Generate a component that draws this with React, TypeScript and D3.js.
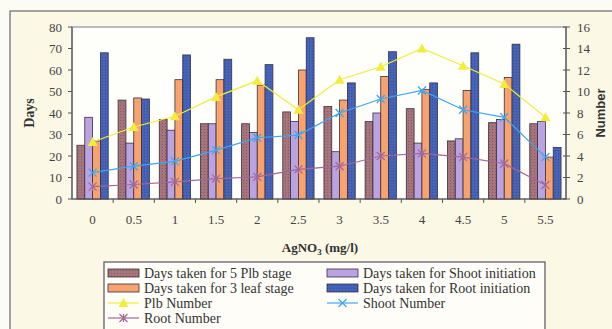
import * as d3 from "d3";

const CATEGORIES = ["0", "0.5", "1", "1.5", "2", "2.5", "3", "3.5", "4", "4.5", "5", "5.5"];

// days (left axis)
const PLB_STAGE = [25, 46, 37, 35, 35, 40.5, 43, 36, 42, 27, 35.5, 35];
const SHOOT_INIT = [38, 26, 32, 35, 31, 36, 22, 40, 26, 28, 37, 36];
const LEAF_STAGE = [27, 47, 55.5, 55.5, 53, 60, 46, 57, 51, 50.5, 56.5, 19.5];
const ROOT_INIT = [68, 46.5, 67, 65, 62.5, 75, 54, 68.5, 54, 68, 72, 24];

// numbers (right axis)
const PLB_NUMBER = [5.3, 6.7, 7.7, 9.5, 11, 8.3, 11.1, 12.3, 14, 12.4, 10.7, 7.6];
const SHOOT_NUMBER = [2.45, 3.05, 3.5, 4.55, 5.7, 5.95, 8, 9.3, 10.1, 8.3, 7.6, 3.9];
const ROOT_NUMBER = [1.15, 1.35, 1.6, 1.9, 2.05, 2.75, 3.05, 4, 4.25, 3.9, 3.3, 1.3];

const LEFT_TICKS = [0, 10, 20, 30, 40, 50, 60, 70, 80];
const RIGHT_TICKS = [0, 2, 4, 6, 8, 10, 12, 14, 16];

const W = 612;
const H = 329;
const PLOT = { left: 72, right: 566, top: 27, bottom: 199 };
const SERIF = "'Liberation Serif', 'DejaVu Serif', serif";

const barSeries = [
  { name: "Days taken for 5 Plb stage", values: PLB_STAGE, fill: "url(#dotBrown)" },
  { name: "Days taken for Shoot initiation", values: SHOOT_INIT, fill: "#b9a3e0" },
  { name: "Days taken for 3 leaf stage", values: LEAF_STAGE, fill: "#f8a36e" },
  { name: "Days taken for Root initiation", values: ROOT_INIT, fill: "url(#dotBlue)" },
];

const lineSeries = [
  { name: "Plb Number", values: PLB_NUMBER, color: "#f2ec3a", marker: "tri" },
  { name: "Shoot Number", values: SHOOT_NUMBER, color: "#3ea6ee", marker: "x" },
  { name: "Root Number", values: ROOT_NUMBER, color: "#a0679a", marker: "star" },
];

const Marker = ({ kind, x, y, color }: { kind: string; x: number; y: number; color: string }) => {
  if (kind === "tri") {
    return <path d={`M${x},${y - 5}L${x + 5},${y + 4}L${x - 5},${y + 4}Z`} fill={color} />;
  }
  if (kind === "x") {
    return (
      <path d={`M${x - 4},${y - 4}L${x + 4},${y + 4}M${x - 4},${y + 4}L${x + 4},${y - 4}`} stroke={color} strokeWidth={1.3} />
    );
  }
  return (
    <path
      d={`M${x - 4},${y - 4}L${x + 4},${y + 4}M${x - 4},${y + 4}L${x + 4},${y - 4}M${x},${y - 4}L${x},${y + 4}`}
      stroke={color}
      strokeWidth={1.2}
    />
  );
};

export default function App() {
  const x = d3
    .scaleBand<string>()
    .domain(CATEGORIES)
    .range([PLOT.left, PLOT.right])
    .paddingInner(0.24)
    .paddingOuter(0.12);
  const xInner = d3
    .scaleBand<number>()
    .domain(d3.range(barSeries.length))
    .range([0, x.bandwidth()]);
  const yL = d3.scaleLinear().domain([0, 80]).range([PLOT.bottom, PLOT.top]);
  const yR = d3.scaleLinear().domain([0, 16]).range([PLOT.bottom, PLOT.top]);
  const step = x.step();
  const cx = (c: string) => (x(c) ?? 0) + x.bandwidth() / 2;

  const line = d3
    .line<number>()
    .x((_, i) => cx(CATEGORIES[i]))
    .y((d) => yR(d));

  const legendRows = [
    { col: 0, row: 0, item: barSeries[0] },
    { col: 1, row: 0, item: barSeries[1] },
    { col: 0, row: 1, item: barSeries[2] },
    { col: 1, row: 1, item: barSeries[3] },
    { col: 0, row: 2, item: lineSeries[0] },
    { col: 1, row: 2, item: lineSeries[1] },
    { col: 0, row: 3, item: lineSeries[2] },
  ];

  return (
    <div style={{ position: "absolute", left: 0, top: 0 }}>
      <svg width={W} height={H} style={{ display: "block", background: "#fdfcf4" }}>
        <defs>
          <pattern id="dotBrown" width={3} height={3} patternUnits="userSpaceOnUse">
            <rect width={3} height={3} fill="#a6747a" />
            <rect width={1} height={1} fill="#8a5a60" />
          </pattern>
          <pattern id="dotBlue" width={3} height={3} patternUnits="userSpaceOnUse">
            <rect width={3} height={3} fill="#4563b8" />
            <rect width={1} height={1} fill="#3450a0" />
          </pattern>
        </defs>

        {/* outer chart frame */}
        <rect x={10} y={11} width={640} height={340} fill="#fbf8e6" stroke="#6a6470" strokeWidth={1.2} />

        {/* plot area */}
        <rect
          x={PLOT.left}
          y={PLOT.top}
          width={PLOT.right - PLOT.left}
          height={PLOT.bottom - PLOT.top}
          fill="#fefefb"
          stroke="#7d7894"
          strokeWidth={1}
        />

        {/* bars */}
        {barSeries.map((s, si) =>
          s.values.map((v, i) => {
            const c = CATEGORIES[i];
            return (
              <rect
                key={`${si}_${i}`}
                x={(x(c) ?? 0) + (xInner(si) ?? 0)}
                y={yL(v)}
                width={xInner.bandwidth()}
                height={PLOT.bottom - yL(v)}
                fill={s.fill}
                stroke="#3a3040"
                strokeWidth={0.8}
              />
            );
          })
        )}

        {/* lines */}
        {lineSeries.map((s) => (
          <g key={s.name}>
            <path d={line(s.values) ?? ""} fill="none" stroke={s.color} strokeWidth={1.2} />
            {s.values.map((v, i) => (
              <Marker key={i} kind={s.marker} x={cx(CATEGORIES[i])} y={yR(v)} color={s.color} />
            ))}
          </g>
        ))}

        {/* left axis */}
        <line x1={PLOT.left} x2={PLOT.left} y1={PLOT.top} y2={PLOT.bottom} stroke="#555" strokeWidth={1.2} />
        {LEFT_TICKS.map((t) => (
          <g key={t}>
            <line x1={PLOT.left - 4} x2={PLOT.left} y1={yL(t)} y2={yL(t)} stroke="#555" />
            <text x={62} y={yL(t)} dy="0.35em" textAnchor="end" fontFamily={SERIF} fontSize={13} fill="#444">
              {t}
            </text>
          </g>
        ))}

        {/* right axis */}
        <line x1={PLOT.right} x2={PLOT.right} y1={PLOT.top} y2={PLOT.bottom} stroke="#555" strokeWidth={1.2} />
        {RIGHT_TICKS.map((t) => (
          <g key={t}>
            <line x1={PLOT.right - 3} x2={PLOT.right + 4} y1={yR(t)} y2={yR(t)} stroke="#555" />
            <text x={577} y={yR(t)} dy="0.35em" textAnchor="start" fontFamily={SERIF} fontSize={13} fill="#444">
              {t}
            </text>
          </g>
        ))}

        {/* bottom axis */}
        <line x1={PLOT.left} x2={PLOT.right} y1={PLOT.bottom} y2={PLOT.bottom} stroke="#555" strokeWidth={1.2} />
        {CATEGORIES.map((c, i) => (
          <g key={c}>
            {i > 0 && (
              <line x1={(x(c) ?? 0) - (step - x.bandwidth()) / 2} x2={(x(c) ?? 0) - (step - x.bandwidth()) / 2} y1={PLOT.bottom} y2={PLOT.bottom + 4} stroke="#555" />
            )}
            <text x={cx(c)} y={219} dy="0.35em" textAnchor="middle" fontFamily={SERIF} fontSize={13} fill="#444">
              {c}
            </text>
          </g>
        ))}

        {/* axis titles */}
        <text
          transform={`translate(34,113) rotate(-90)`}
          textAnchor="middle"
          fontFamily={SERIF}
          fontWeight="bold"
          fontSize={14}
          fill="#333"
        >
          Days
        </text>
        <text
          transform={`translate(605,113) rotate(-90)`}
          textAnchor="middle"
          fontFamily="'Liberation Sans', Arial, sans-serif"
          fontWeight="bold"
          fontSize={13}
          fill="#333"
        >
          Number
        </text>
        <text x={320} y={252} textAnchor="middle" fontFamily={SERIF} fontWeight="bold" fontSize={13} fill="#333">
          AgNO<tspan fontSize={9} dy={3}>3</tspan>
          <tspan dy={-3}> (mg/l)</tspan>
        </text>

        {/* legend */}
        <rect x={104} y={262} width={441} height={80} fill="#fefdf8" stroke="#5a5060" strokeWidth={1.2} />
        {legendRows.map(({ col, row, item }) => {
          const lx = col === 0 ? 108 : 327;
          const ly = 273 + row * 15;
          const isBar = "fill" in item;
          return (
            <g key={item.name}>
              {isBar ? (
                <rect x={lx} y={ly - 4} width={31} height={8} fill={(item as any).fill} stroke="#3a3040" strokeWidth={0.8} />
              ) : (
                <g>
                  <line x1={lx} x2={lx + 31} y1={ly} y2={ly} stroke={(item as any).color} strokeWidth={1.2} />
                  <Marker kind={(item as any).marker} x={lx + 15.5} y={ly} color={(item as any).color} />
                </g>
              )}
              <text x={lx + 36} y={ly} dy="0.35em" fontFamily={SERIF} fontSize={14} fill="#333">
                {item.name}
              </text>
            </g>
          );
        })}
      </svg>
    </div>
  );
}
